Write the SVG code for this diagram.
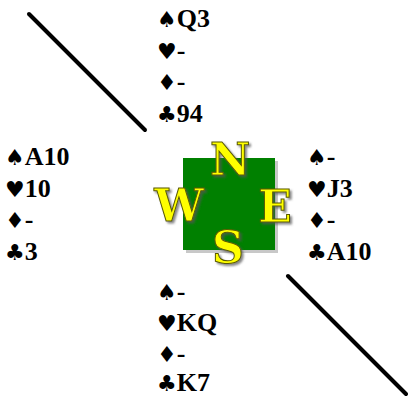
<svg xmlns="http://www.w3.org/2000/svg" width="408" height="398" viewBox="0 0 408 398">
<defs>
<filter id="sh" x="-20%" y="-20%" width="150%" height="150%">
<feDropShadow dx="2" dy="2" stdDeviation="1" flood-color="#555" flood-opacity="0.7"/>
</filter>
</defs>
<style>
text.h{font-family:"Liberation Serif","Times New Roman",serif;font-weight:bold;font-size:26px;fill:#000}
.s{font-family:"DejaVu Sans",sans-serif;font-size:22px;font-weight:normal}
.c{font-family:"DejaVu Serif",serif;font-weight:bold;font-size:44px;fill:#ffff00;stroke:#5a5a00;stroke-width:1;text-anchor:middle;filter:url(#sh)}
.ln{stroke:#000;stroke-width:4;stroke-linecap:round}
</style>
<rect width="408" height="398" fill="#fff"/>
<g id="connectors">
<line class="ln" x1="29" y1="14" x2="145" y2="130"/>
<line class="ln" x1="288" y1="276" x2="406" y2="394"/>
</g>
<g id="compass">
<rect x="186" y="161" width="92" height="92" fill="#c8c8c8"/>
<rect x="183" y="158" width="92" height="92" fill="#008000"/>
<text class="c" x="230" y="175">N</text>
<text class="c" x="179" y="221">W</text>
<text class="c" x="275" y="222">E</text>
<text class="c" x="228" y="263">S</text>
</g>
<g id="north">
<text class="h" x="157" y="27"><tspan class="s">♠</tspan>Q3</text>
<text class="h" x="157" y="59"><tspan class="s">♥</tspan>-</text>
<text class="h" x="157" y="90"><tspan class="s">♦</tspan>-</text>
<text class="h" x="157" y="122"><tspan class="s">♣</tspan>94</text>
</g>
<g id="west">
<text class="h" x="5" y="165"><tspan class="s">♠</tspan>A10</text>
<text class="h" x="5" y="197"><tspan class="s">♥</tspan>10</text>
<text class="h" x="5" y="228"><tspan class="s">♦</tspan>-</text>
<text class="h" x="5" y="260"><tspan class="s">♣</tspan>3</text>
</g>
<g id="east">
<text class="h" x="307" y="165"><tspan class="s">♠</tspan>-</text>
<text class="h" x="307" y="197"><tspan class="s">♥</tspan>J3</text>
<text class="h" x="307" y="228"><tspan class="s">♦</tspan>-</text>
<text class="h" x="307" y="260"><tspan class="s">♣</tspan>A10</text>
</g>
<g id="south">
<text class="h" x="157" y="300"><tspan class="s">♠</tspan>-</text>
<text class="h" x="157" y="331"><tspan class="s">♥</tspan>KQ</text>
<text class="h" x="157" y="362"><tspan class="s">♦</tspan>-</text>
<text class="h" x="157" y="391"><tspan class="s">♣</tspan>K7</text>
</g>
</svg>
